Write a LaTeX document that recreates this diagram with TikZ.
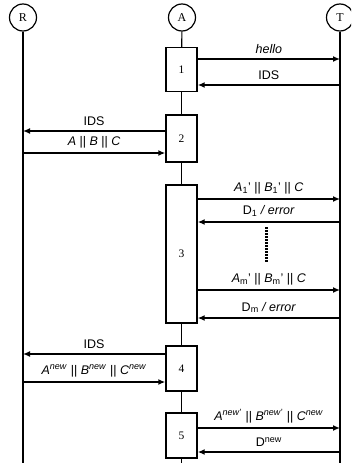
\documentclass[tikz,border=0pt]{standalone}
\usepackage{fontspec}
\setmainfont{Liberation Sans}
\newfontfamily\serifnum{Liberation Serif}
\usetikzlibrary{arrows.meta}
\newcommand{\cc}{\ \textup{||}\ }
\newcommand{\nw}{\textsuperscript{\fontsize{9}{9}\selectfont\textit{new}}}
\newcommand{\nwp}{\textsuperscript{\fontsize{9}{9}\selectfont\textit{new}'}}
\newcommand{\sub}[1]{\textsubscript{\fontsize{9}{9}\selectfont #1}}

\begin{document}
\begin{tikzpicture}[x=1pt, y=-1pt,
  font=\fontsize{12.5}{14}\selectfont,
  party/.style={draw, circle, line width=1.2pt, minimum size=27pt, inner sep=0pt, font=\serifnum\fontsize{12}{12}\selectfont},
  life/.style={line width=1.1pt},
  stepbox/.style={draw, line width=1.4pt, fill=white, minimum width=31pt, inner sep=0pt, font=\serifnum\fontsize{11.5}{12}\selectfont},
  msg/.style={-{Latex[length=7pt,width=6pt]}, line width=1.4pt},
  gap/.style={line width=3pt, dash pattern=on 2pt off 1pt},
]
\useasboundingbox (0,0) rectangle (351,463);
\clip (0,0) rectangle (351,463);

% parties
\node[party] (R) at (23,17.5)  {R};
\node[party] (A) at (182,17.5) {A};
\node[party] (T) at (340,17.5) {T};
\coordinate (bot) at (0,463);

% steps
\node[stepbox, minimum height=44pt]  (s1) at (181.5,69.5)  {1};
\node[stepbox, minimum height=47pt]  (s2) at (181.5,138.5) {2};
\node[stepbox, minimum height=138pt] (s3) at (181.5,254)   {3};
\node[stepbox, minimum height=45pt]  (s4) at (181.5,368.5) {4};
\node[stepbox, minimum height=45pt]  (s5) at (181.5,435.5) {5};

% lifelines
\draw[life] (R) -- (R |- bot);
\draw[life] (T) -- (T |- bot);
\draw[life] (A) -- (s1);
\draw[life] (s1) -- (s2);
\draw[life] (s2) -- (s3);
\draw[life] (s3) -- (s4);
\draw[life] (s4) -- (s5);
\draw[life] (s5) -- (s5 |- bot);

% step 1
\draw[msg] ([yshift=10.5pt]s1.east) -- ([yshift=10.5pt]s1.east -| T) node[midway, above=1pt] {\textit{hello}};
\draw[msg] ([yshift=-15.5pt]s1.east -| T) -- ([yshift=-15.5pt]s1.east) node[midway, above=1pt] {IDS};

% step 2
\draw[msg] ([yshift=7.5pt]s2.west) -- ([yshift=7.5pt]s2.west -| R) node[midway, above=1pt] {IDS};
\draw[msg] ([yshift=-14.5pt]s2.west -| R) -- ([yshift=-14.5pt]s2.west) node[midway, above=1pt] {\textit{A}\cc\textit{B}\cc\textit{C}};

% step 3
\draw[msg] ([yshift=55pt]s3.east) -- ([yshift=55pt]s3.east -| T) node[midway, above=1pt] {\textit{A}\sub{1}'\cc\textit{B}\sub{1}'\cc\textit{C}};
\draw[msg] ([yshift=32pt]s3.east -| T) -- ([yshift=32pt]s3.east) node[midway, above=1pt] {D\sub{1} \textit{/ error}};
\coordinate (g1) at (266,227);
\coordinate (g2) at (266,263);
\draw[gap] (g1) -- (g2);
\draw[msg] ([yshift=-36pt]s3.east) -- ([yshift=-36pt]s3.east -| T) node[midway, above=1pt] {\textit{A}\sub{m}'\cc\textit{B}\sub{m}'\cc\textit{C}};
\draw[msg] ([yshift=-64pt]s3.east -| T) -- ([yshift=-64pt]s3.east) node[midway, above=1pt] {D\sub{m} \textit{/ error}};

% step 4
\draw[msg] ([yshift=14.5pt]s4.west) -- ([yshift=14.5pt]s4.west -| R) node[midway, above=1pt] {IDS};
\draw[msg] ([yshift=-13.5pt]s4.west -| R) -- ([yshift=-13.5pt]s4.west) node[midway, above=1pt] {\textit{A}\nw\cc\textit{B}\nw\cc\textit{C}\nw};

% step 5
\draw[msg] ([yshift=7.5pt]s5.east) -- ([yshift=7.5pt]s5.east -| T) node[midway, above=1pt] {\textit{A}\nwp\cc\textit{B}\nwp\cc\textit{C}\nw};
\draw[msg] ([yshift=-16.5pt]s5.east -| T) -- ([yshift=-16.5pt]s5.east) node[midway, above=1pt] {D\textsuperscript{\fontsize{9}{9}\selectfont new}};
\end{tikzpicture}
\end{document}
